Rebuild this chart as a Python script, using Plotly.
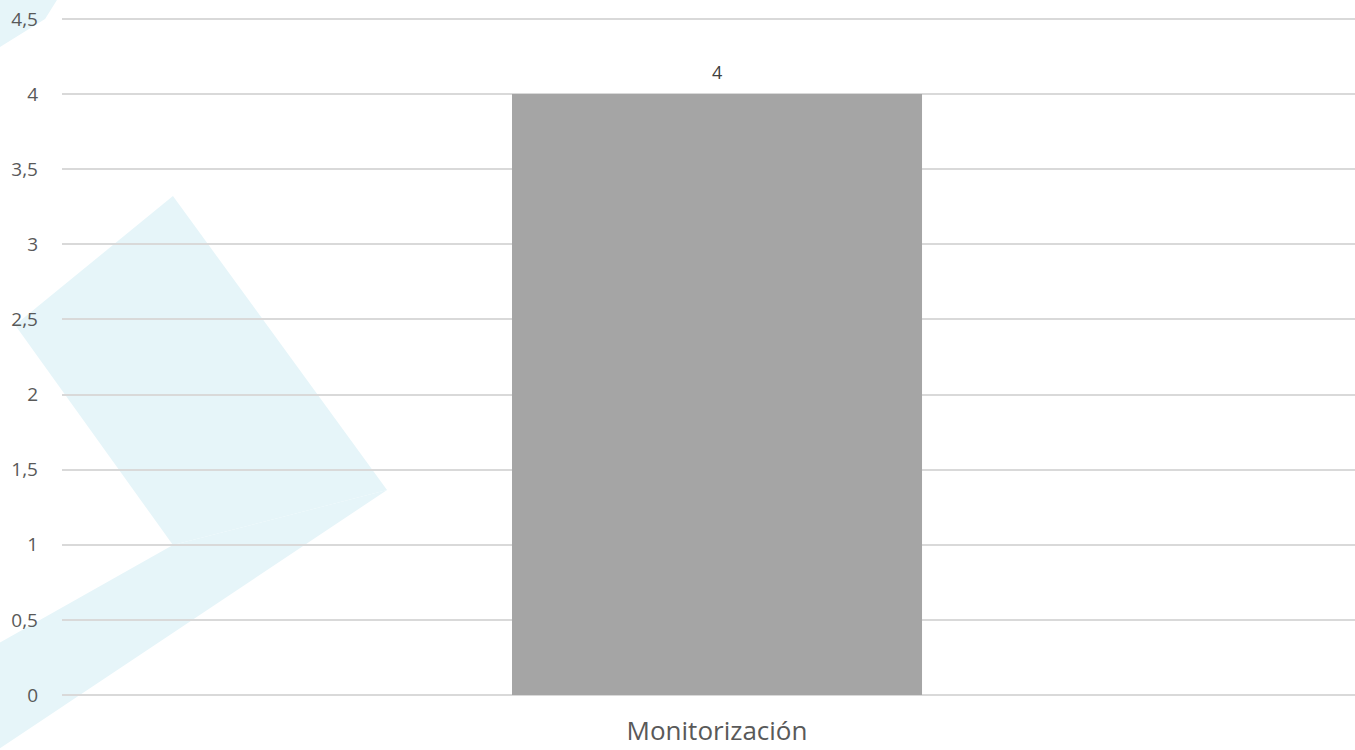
import plotly.graph_objects as go

# Chart data
categories = ["Monitorización"]
values = [4]
y_ticks = [0, 0.5, 1, 1.5, 2, 2.5, 3, 3.5, 4, 4.5]
y_tick_labels = ["0", "0,5", "1", "1,5", "2", "2,5", "3", "3,5", "4", "4,5"]

# Plot-area geometry in pixels
W, H = 1355, 750
L, R_EDGE = 62, 1355
Y0_PX, YTOP_PX = 695, 19          # pixel rows of the 0 and 4.5 gridlines
PAD = 0.02                        # small range padding so edge gridlines are drawn
scale = (Y0_PX - YTOP_PX) / (y_ticks[-1] - y_ticks[0])
T = YTOP_PX - PAD * scale
B = Y0_PX + PAD * scale


def px(x, y):
    """Pixel position -> paper coordinates."""
    return (x - L) / (R_EDGE - L), (B - y) / (B - T)


def path(points):
    pts = [px(x, y) for x, y in points]
    return "M " + " L ".join(f"{a:.4f},{b:.4f}" for a, b in pts) + " Z"


chevron_color = "#e6f5f9"
shapes = [
    # main chevron, upper arm
    dict(type="path", xref="paper", yref="paper", layer="below",
         path=path([(15, 325), (173, 196), (387, 490), (173, 545)]),
         fillcolor=chevron_color, line=dict(width=0)),
    # main chevron, lower arm
    dict(type="path", xref="paper", yref="paper", layer="below",
         path=path([(173, 545), (387, 490), (-40, 775), (-40, 665)]),
         fillcolor=chevron_color, line=dict(width=0)),
    # corner fragment of a second chevron
    dict(type="path", xref="paper", yref="paper", layer="below",
         path=path([(-5, -5), (60, -5), (45, 19), (-5, 50)]),
         fillcolor=chevron_color, line=dict(width=0)),
]

fig = go.Figure(
    go.Bar(
        x=categories,
        y=values,
        width=0.313,
        marker=dict(color="#a5a5a5", line=dict(width=0)),
        cliponaxis=False,
        hoverinfo="x+y",
    )
)

# value labels above the bars
for c, v in zip(categories, values):
    fig.add_annotation(
        x=c, y=v, text=f"{v:g}".replace(".", ","), showarrow=False,
        yanchor="bottom", yshift=8,
        font=dict(family="Open Sans, sans-serif", size=18, color="#404040"),
    )

fig.update_layout(
    width=W,
    height=H,
    margin=dict(l=L, r=W - R_EDGE, t=T, b=H - B, autoexpand=False),
    paper_bgcolor="white",
    plot_bgcolor="rgba(0,0,0,0)",
    separators=",.",
    showlegend=False,
    shapes=shapes,
    font=dict(family="Open Sans, sans-serif", color="#595959"),
    xaxis=dict(
        type="category",
        range=[-0.5, 0.487],
        showgrid=False,
        showline=False,
        zeroline=False,
        ticks="",
        automargin=False,
        tickfont=dict(size=26, color="#595959"),
        ticklabelstandoff=15,
    ),
    yaxis=dict(
        range=[y_ticks[0] - PAD, y_ticks[-1] + PAD],
        tickvals=y_ticks,
        ticktext=y_tick_labels,
        showgrid=True,
        gridcolor="#d9d9d9",
        gridwidth=1.5,
        zeroline=False,
        showline=False,
        ticks="",
        automargin=False,
        tickfont=dict(size=19, color="#595959"),
        ticklabelstandoff=23,
    ),
)

fig.write_html("out.html")
